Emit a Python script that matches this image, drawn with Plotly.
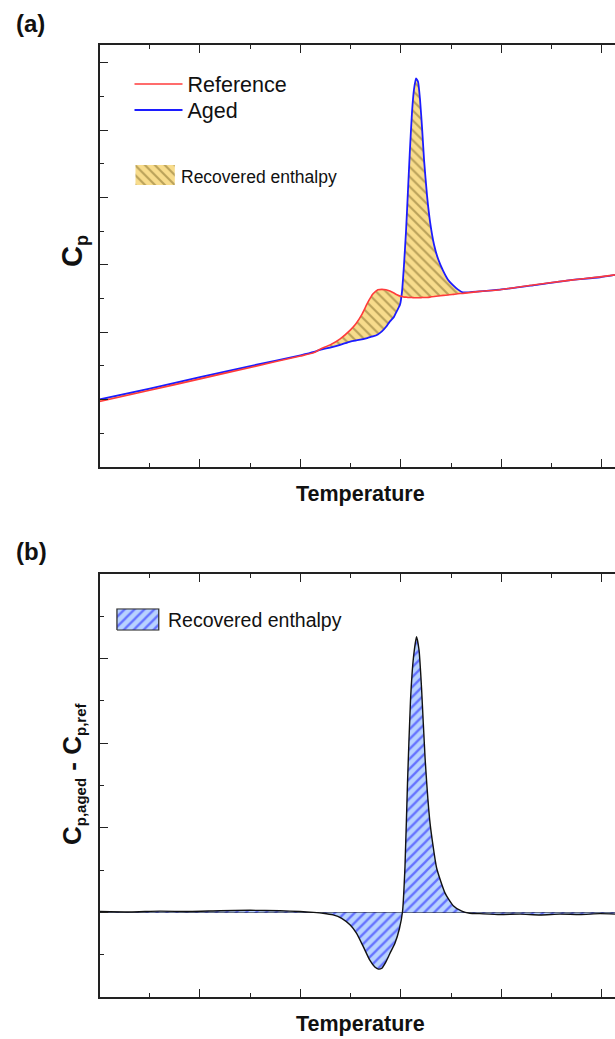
import plotly.graph_objects as go

# ---------------- data ----------------
# panel (a): common temperature grid (arbitrary units; major tick = 20)
temp_a = [0, 10, 20, 30, 40, 42.7, 43.9, 45.9, 47.9, 49.9, 51.0, 52.2, 53.4, 54.4,
          55.4, 56.2, 57.0, 57.8, 58.6, 59.2, 59.8, 60.2, 60.6, 61.0, 61.4, 61.8,
          62.2, 62.6, 63.0, 63.4, 63.8, 64.2, 64.6, 65.2, 65.8, 66.6, 67.4, 68.4,
          69.4, 70.4, 71.3, 72.3, 75.7, 79.7, 86.3, 93.0, 99.6, 102.6]
cp_reference = [1.94, 2.27, 2.61, 2.95, 3.29, 3.39, 3.49, 3.62, 3.80, 4.06, 4.24, 4.52,
                4.88, 5.13, 5.26, 5.27, 5.26, 5.22, 5.16, 5.11, 5.07, 5.06, 5.04, 5.04,
                5.03, 5.03, 5.03, 5.02, 5.02, 5.02, 5.02, 5.03, 5.03, 5.03, 5.04, 5.06,
                5.07, 5.09, 5.10, 5.12, 5.14, 5.15, 5.21, 5.26, 5.40, 5.53, 5.64, 5.70]
cp_aged = [2.00, 2.32, 2.66, 2.99, 3.31, 3.41, 3.47, 3.54, 3.62, 3.72, 3.75, 3.78,
           3.83, 3.87, 3.93, 4.02, 4.15, 4.32, 4.45, 4.63, 4.81, 5.19, 5.99, 6.98,
           8.22, 9.47, 10.54, 11.22, 11.54, 11.44, 10.90, 10.07, 9.11, 8.04, 7.27,
           6.59, 6.17, 5.82, 5.55, 5.39, 5.27, 5.18, 5.21, 5.26, 5.39, 5.53, 5.63, 5.70]

# panel (b): difference curve
temp_b = [0, 6.1, 12.0, 18.0, 24.0, 30.0, 35.9, 39.9, 42.6, 44.5, 46.5, 48.2, 49.9,
          51.2, 52.5, 53.8, 54.8, 55.5, 56.2, 57.0, 57.8, 58.8, 59.7, 60.3, 60.8,
          61.3, 61.9, 62.5, 63.1, 63.6, 64.1, 64.8, 65.8, 67.1, 68.8, 70.4, 72.1,
          73.7, 75.7, 79.7, 83.7, 87.7, 91.6, 95.6, 99.6, 102.6]
delta_cp = [0.02, 0.01, 0.03, 0.02, 0.04, 0.05, 0.04, 0.02, 0.00, -0.02, -0.06, -0.14,
            -0.30, -0.50, -0.81, -1.13, -1.29, -1.34, -1.32, -1.17, -0.97, -0.73,
            -0.38, 0.01, 1.08, 3.05, 5.02, 6.04, 6.52, 6.20, 5.30, 3.65, 2.10, 1.05,
            0.45, 0.16, 0.03, -0.02, -0.03, -0.05, -0.04, -0.06, -0.04, -0.05, -0.03, -0.04]

# legend key box (in key-axis units 0..1)
key_box_x = [0, 1, 1, 0, 0]
key_box_y = [0, 0, 1, 1, 0]

# ---------------- styling ----------------
W, H = 615, 1039
FONT = "Arial, Liberation Sans, sans-serif"
AX = "#222222"
TXT = "#111111"
RED = "#ff3b3b"
BLUE = "#1c1cff"
SMOOTH = 0.5
GOLD_PAT = dict(shape="\\", bgcolor="#f8dc8c", fgcolor="#7a6526", size=7, solidity=0.3)
BLUE_PAT = dict(shape="/", bgcolor="#b8d2ff", fgcolor="#0f0fff", size=7, solidity=0.33)


def px_x(p):
    return p / W


def px_y(p):
    return 1 - p / H


fig = go.Figure()

# (a) recovered enthalpy fill between curves
fig.add_trace(go.Scatter(
    x=temp_a + temp_a[::-1], y=cp_aged + cp_reference[::-1],
    xaxis="x", yaxis="y", mode="lines", fill="toself",
    line=dict(width=0, color="rgba(0,0,0,0)", shape="spline", smoothing=SMOOTH),
    fillpattern=GOLD_PAT, showlegend=False, hoverinfo="skip"))
fig.add_trace(go.Scatter(x=temp_a, y=cp_aged, xaxis="x", yaxis="y", mode="lines",
                         name="Aged", legend="legend2",
                         line=dict(color=BLUE, width=1.8, shape="spline",
                                   smoothing=SMOOTH)))
fig.add_trace(go.Scatter(x=temp_a, y=cp_reference, xaxis="x", yaxis="y", mode="lines",
                         name="Reference", legend="legend",
                         line=dict(color=RED, width=1.6, shape="spline",
                                   smoothing=SMOOTH)))

# (b) difference curve filled to zero
fig.add_trace(go.Scatter(
    x=temp_b, y=delta_cp, xaxis="x2", yaxis="y2", mode="lines", fill="tozeroy",
    line=dict(color=TXT, width=1.4, shape="spline", smoothing=SMOOTH),
    fillpattern=BLUE_PAT, showlegend=False, hoverinfo="skip"))

# legend key boxes
fig.add_trace(go.Scatter(
    x=key_box_x, y=key_box_y, xaxis="x3", yaxis="y3", mode="lines", fill="toself",
    line=dict(width=0, color="rgba(0,0,0,0)"), fillpattern=GOLD_PAT,
    showlegend=False, hoverinfo="skip"))
fig.add_trace(go.Scatter(
    x=key_box_x, y=key_box_y, xaxis="x4", yaxis="y4", mode="lines", fill="toself",
    line=dict(width=1.3, color="#333333"), fillpattern=BLUE_PAT,
    showlegend=False, hoverinfo="skip"))

xdom = [px_x(99.5), 1.0]
common_x = dict(range=[0, 102.6], showline=True, linecolor=AX, linewidth=2,
                mirror="ticks", ticks="inside", ticklen=8, tickwidth=1.4, tickcolor=AX,
                tick0=0, dtick=20, showticklabels=False, showgrid=False, zeroline=False,
                minor=dict(ticks="inside", ticklen=4, tickwidth=1.4, tickcolor=AX,
                           dtick=10, showgrid=False),
                fixedrange=True)
common_y = dict(showline=True, linecolor=AX, linewidth=2, mirror=False,
                ticks="inside", ticklen=8, tickwidth=1.4, tickcolor=AX,
                tick0=0, dtick=2, showticklabels=False, showgrid=False,
                minor=dict(ticks="inside", ticklen=4, tickwidth=1.4, tickcolor=AX,
                           dtick=1, showgrid=False),
                fixedrange=True)

key_ax = dict(visible=False, range=[-0.03, 1.03], fixedrange=True, showgrid=False,
              zeroline=False)

leg_common = dict(xanchor="left", yanchor="top", bgcolor="rgba(0,0,0,0)",
                  borderwidth=0, itemwidth=48, tracegroupgap=0,
                  font=dict(size=21.5, family=FONT, color=TXT))

fig.update_layout(
    width=W, height=H,
    margin=dict(l=0, r=0, t=0, b=0),
    paper_bgcolor="white", plot_bgcolor="rgba(0,0,0,0)",
    font=dict(family=FONT, color=TXT),
    xaxis=dict(domain=xdom, anchor="y", **common_x),
    yaxis=dict(domain=[px_y(466.7), px_y(44.7)], anchor="x", range=[0, 12.54],
               zeroline=False, **common_y),
    xaxis2=dict(domain=xdom, anchor="y2", **common_x),
    yaxis2=dict(domain=[px_y(997), px_y(574)], anchor="x2", range=[-2, 8],
                zeroline=True, zerolinecolor=TXT, zerolinewidth=1.3, **common_y),
    xaxis3=dict(domain=[px_x(134.3), px_x(176)], anchor="y3", **key_ax),
    yaxis3=dict(domain=[px_y(185.7), px_y(164.3)], anchor="x3", **key_ax),
    xaxis4=dict(domain=[px_x(115.7), px_x(160)], anchor="y4", **key_ax),
    yaxis4=dict(domain=[px_y(630.7), px_y(608.3)], anchor="x4", **key_ax),
    showlegend=True,
    legend=dict(x=px_x(129.5), y=px_y(63.5), **leg_common),
    legend2=dict(x=px_x(129.5), y=px_y(89.5), **leg_common),
)

ann = []
ann.append(dict(text="<b>(a)</b>", x=px_x(14), y=px_y(23), xref="paper", yref="paper",
                xanchor="left", yanchor="middle", showarrow=False,
                font=dict(size=24, family=FONT, color=TXT)))
ann.append(dict(text="<b>(b)</b>", x=px_x(14), y=px_y(551), xref="paper", yref="paper",
                xanchor="left", yanchor="middle", showarrow=False,
                font=dict(size=24, family=FONT, color=TXT)))
ann.append(dict(text="<b>Temperature</b>", x=px_x(360), y=px_y(494), xref="paper",
                yref="paper", xanchor="center", yanchor="middle", showarrow=False,
                font=dict(size=21.5, family=FONT, color=TXT)))
ann.append(dict(text="<b>Temperature</b>", x=px_x(360), y=px_y(1024), xref="paper",
                yref="paper", xanchor="center", yanchor="middle", showarrow=False,
                font=dict(size=21.5, family=FONT, color=TXT)))
ann.append(dict(text="<b>C<sub><span style='font-size:18px'>p</span></sub></b>",
                x=px_x(74), y=px_y(251), xref="paper",
                yref="paper", xanchor="center", yanchor="middle", showarrow=False,
                textangle=-90, font=dict(size=29, family=FONT, color=TXT)))
ann.append(dict(text="<b>C<sub><span style='font-size:15px'>p,aged</span></sub> - "
                     "C<sub><span style='font-size:15px'>p,ref</span></sub></b>",
                x=px_x(73), y=px_y(774), xref="paper", yref="paper", xanchor="center",
                yanchor="middle", showarrow=False, textangle=-90,
                font=dict(size=26, family=FONT, color=TXT)))
ann.append(dict(text="Recovered enthalpy", x=px_x(179), y=px_y(176.7), xref="paper",
                yref="paper", xanchor="left", yanchor="middle", showarrow=False,
                font=dict(size=17.5, family=FONT, color=TXT)))
ann.append(dict(text="Recovered enthalpy", x=px_x(165.5), y=px_y(620), xref="paper",
                yref="paper", xanchor="left", yanchor="middle", showarrow=False,
                font=dict(size=19.5, family=FONT, color=TXT)))
fig.update_layout(annotations=ann)

fig.write_html("out.html", config={"displayModeBar": False},
               post_script="document.body.style.margin='0';"
                           "document.body.style.overflow='hidden';")
